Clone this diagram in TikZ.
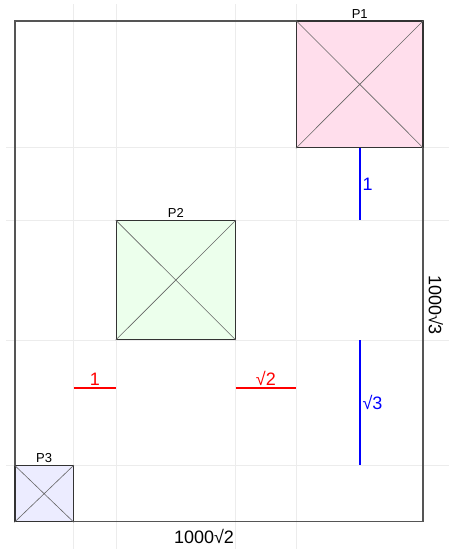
\documentclass[tikz,border=0pt]{standalone}
\usepackage{fontspec}
\setmainfont{Liberation Sans}
\usetikzlibrary{positioning}
\definecolor{sheetpink}{RGB}{255,222,236}
\definecolor{sheetgreen}{RGB}{236,255,236}
\definecolor{sheetlilac}{RGB}{236,236,255}
\definecolor{gridgray}{RGB}{236,236,236}
\definecolor{framegray}{RGB}{85,85,85}

\begin{document}
\begin{tikzpicture}[
    x=1pt, y=-1pt,
    sheet/.style={draw=black!80, line width=1.2pt, inner sep=0pt},
    tag/.style={font=\fontsize{13}{13}\selectfont, inner sep=2pt},
    num/.style={font=\fontsize{18}{18}\selectfont, inner sep=2pt},
    gap/.style={line width=1.7pt},
    gridline/.style={draw=gridgray, line width=0.8pt},
    cross/.style={draw=black!60, line width=0.6pt}
]
\useasboundingbox (0,0) rectangle (449,549);
% background grid
\foreach \gx in {73.3,116.3,235.3,296.7}
    \draw[gridline] (\gx,4) -- (\gx,549);
\foreach \gy in {147.7,220.7,340,465.7}
    \draw[gridline] (6,\gy) -- (449,\gy);
% outer sheet
\node[draw=framegray, line width=1.2pt, inner sep=0pt, minimum width=408pt, minimum height=500.7pt] (frame) at (219,271.35) {};
% parts
\node[sheet, fill=sheetpink, minimum width=126.5pt, minimum height=126.7pt, label={[tag]above:P1}] (P1) at (359.75,84.35) {};
\node[sheet, fill=sheetgreen, minimum width=119pt, minimum height=118.8pt, label={[tag]above:P2}] (P2) at (175.8,280.1) {};
\node[sheet, fill=sheetlilac, minimum width=58.3pt, minimum height=56pt, label={[tag]above:P3}] (P3) at (44.15,493.7) {};
\foreach \p in {P1,P2,P3}
    \draw[cross] (\p.north west) -- (\p.south east) (\p.north east) -- (\p.south west);
% gaps
\coordinate (redrow) at (0,388.3);
\draw[gap, blue] (P1.south) -- (P1.south |- P2.north) node[num, midway, right] {1};
\draw[gap, blue] (P1.south |- P2.south) -- (P1.south |- P3.north) node[num, midway, right] {√3};
\draw[gap, red] (P3.east |- redrow) -- (P2.west |- redrow) node[num, midway, above] {1};
\draw[gap, red] (P2.east |- redrow) -- (P1.west |- redrow) node[num, midway, above] {√2};
% sheet size
\node[num] (wid) at (204,536.7) {1000√2};
\node[num, rotate=-90] (hgt) at (436,305) {1000√3};
\end{tikzpicture}
\end{document}
